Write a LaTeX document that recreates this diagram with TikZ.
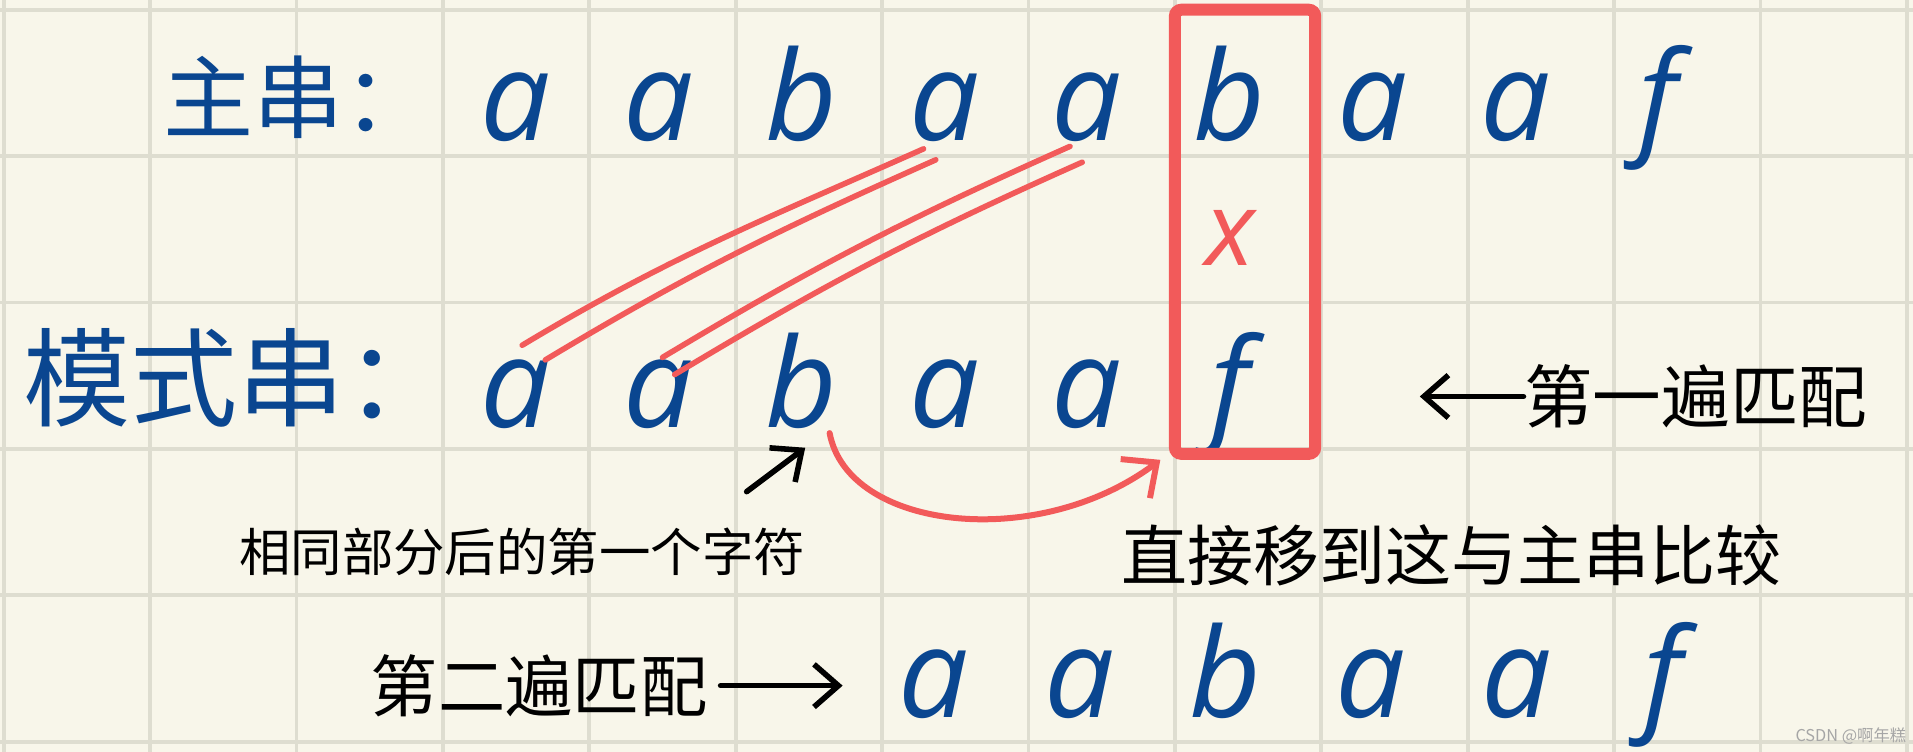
\documentclass[tikz,border=0pt]{standalone}
\usepackage{fontspec}
\newfontfamily\cjk{Noto Sans CJK SC}
\newfontfamily\hand{Open Sans}
\usetikzlibrary{arrows.meta}
\usetikzlibrary{positioning}
\definecolor{paper}{HTML}{F8F6EA}
\definecolor{gridgray}{HTML}{DEDDD0}
\definecolor{inkblue}{HTML}{0A4690}
\definecolor{inkred}{HTML}{F25A5A}
\tikzstyle{gridline} = [draw=gridgray, line width=0.9pt]
\tikzstyle{letter} = [anchor=base, inner sep=0pt, text=inkblue, font=\hand\itshape\fontsize{29}{29}\selectfont]
\tikzstyle{title} = [inner sep=0pt, text=inkblue]
\tikzstyle{note} = [inner sep=0pt, text=black]
\tikzstyle{hitbox} = [draw=inkred, line width=2.8pt, rounded corners=1.5pt, minimum width=1.15cm, minimum height=3.64cm]
\tikzstyle{matchline} = [draw=inkred, line width=1.3pt, line cap=round]
\tikzstyle{shiftarrow} = [inkred, line width=1.4pt, line cap=round, -{Straight Barb[length=2.2mm,width=4mm]}]
\tikzstyle{notearrow} = [black, line width=1.3pt, line cap=round, -{Straight Barb[length=2mm,width=3.5mm]}]

\begin{document}
\begin{tikzpicture}

% paper and grid
\fill[paper] (0,0) rectangle (15.68,-6.16);
\useasboundingbox (0,0) rectangle (15.68,-6.16);
\foreach \k in {0,...,13}
  \draw[gridline] ({0.03+1.2*\k},0) -- ({0.03+1.2*\k},-6.16);
\foreach \k in {0,...,5}
  \draw[gridline] (0,{-0.08-1.2*\k}) -- (15.68,{-0.08-1.2*\k});

% main string
\node (mainlbl) [title, font=\cjk\fontsize{21}{21}\selectfont] at (2.45,-0.80) {主串：};
\foreach \c [count=\i] in {a,a,b,a,a,b,a,a,f}
  \node (m\i) [letter] at ({4.23+1.17*(\i-1)},-1.15) {\c};

% pattern, first pass
\node (patlbl) [title, font=\cjk\fontsize{25}{25}\selectfont] at (1.95,-3.10) {模式串：};
\foreach \c [count=\i] in {a,a,b,a,a,f}
  \node (p\i) [letter] at ({4.23+1.17*(\i-1)},-3.50) {\c};

% pattern, second pass
\foreach \c [count=\i] in {a,a,b,a,a,f}
  \node (q\i) [letter] at ({7.65+1.196*(\i-1)},-5.88) {\c};

% mismatch
\node (hit) [hitbox] at (10.205,-1.90) {};
\node (xmark) [letter, text=inkred, font=\hand\itshape\fontsize{24}{24}\selectfont, below=0.55cm of m6] {x};

% labels
\node (first) [note, font=\cjk\fontsize{16}{16}\selectfont] at (13.90,-3.25) {第一遍匹配};
\node (same) [note, font=\cjk\fontsize{12}{12}\selectfont] at (4.28,-4.52) {相同部分后的第一个字符};
\node (jump) [note, font=\cjk\fontsize{15.4}{15.4}\selectfont] at (11.90,-4.55) {直接移到这与主串比较};
\node (second) [note, font=\cjk\fontsize{15.7}{15.7}\selectfont] at (4.42,-5.62) {第二遍匹配};
\node (mark) [note, text=gray!70, font=\cjk\fontsize{3.8}{4}\selectfont] at (15.17,-6.03) {CSDN @啊年糕};

% matched parts
\draw[matchline] ([shift={(0.05,0.67)}]p1.base) to[out=31,in=204] ([shift={(-0.17,-0.07)}]m4.base);
\draw[matchline] ([shift={(0.24,0.55)}]p1.base) to[out=31,in=204] ([shift={(-0.07,-0.16)}]m4.base);
\draw[matchline] ([shift={(0.03,0.57)}]p2.base) to[out=31,in=204] ([shift={(-0.14,-0.05)}]m5.base);
\draw[matchline] ([shift={(0.13,0.43)}]p2.base) to[out=31,in=204] ([shift={(-0.04,-0.18)}]m5.base);

% arrows
\draw[shiftarrow] ([shift={(0.23,-0.05)}]p3.base) .. controls +(0.15,-0.8) and +(-1.0,-0.75) .. ([xshift=-0.07cm]hit.south west);
\draw[notearrow] ([shift={(-0.45,-0.53)}]p3.base) -- ([shift={(0.03,-0.17)}]p3.base);
\draw[notearrow] (first.west) -- ++(-0.85,0);
\draw[notearrow] ([xshift=0.1cm]second.east) -- ++(1.0,0);

\end{tikzpicture}
\end{document}
